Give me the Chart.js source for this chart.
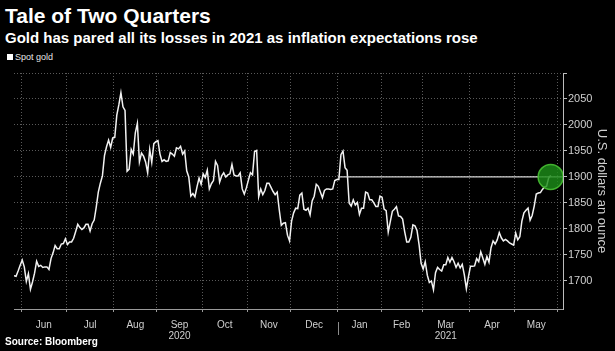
<!DOCTYPE html>
<html>
<head>
<meta charset="utf-8">
<script src="https://cdn.jsdelivr.net/npm/chart.js@4.4.0/dist/chart.umd.min.js"></script>
<style>
  html, body { margin: 0; padding: 0; background: #000; }
  body { width: 615px; height: 351px; position: relative; overflow: hidden; font-family: "Liberation Sans", Arial, sans-serif; color: #fff; }
  .txt { position: absolute; left: 5px; white-space: nowrap; }
  #title { top: 4px; font-size: 21px; line-height: 24px; font-weight: bold; }
  #subtitle { top: 29px; font-size: 15px; line-height: 17px; font-weight: bold; }
  #legend { top: 51px; left: 7px; font-size: 9px; line-height: 12px; color: #e6e6e6; }
  #legend i { display: inline-block; width: 6px; height: 6px; background: #fff; margin-right: 2px; vertical-align: 0px; }
  #source { top: 336px; font-size: 10px; line-height: 12px; font-weight: bold; }
  #chart-box { position: absolute; left: 0; top: 59px; width: 615px; height: 292px; }
</style>
</head>
<body>
<div id="title" class="txt">Tale of Two Quarters</div>
<div id="subtitle" class="txt">Gold has pared all its losses in 2021 as inflation expectations rose</div>
<div id="legend" class="txt"><i></i>Spot gold</div>
<div id="chart-box"><canvas id="gold-chart" width="615" height="292"></canvas></div>
<div id="source" class="txt">Source: Bloomberg</div>

<script>
// ------------------ DATA -------------------//
// one value per weekday, starting Tue 26 May 2020
const firstDay = '2020-05-26';
const spotGold = [
    1710, 1709, 1719, 1730,
    // Jun 2020
    1740, 1727, 1699, 1714, 1684,
    1698, 1715, 1738, 1728, 1730,
    1726, 1727, 1727, 1722, 1743,
    1754, 1768, 1762, 1762, 1771,
    1772, 1781,
    // Jul
    1770, 1775, 1775,
    1782, 1795, 1809, 1803, 1799,
    1802, 1809, 1809, 1796, 1810,
    1817, 1842, 1871, 1888, 1902,
    1941, 1958, 1971, 1957, 1975,
    // Aug
    1976, 2019, 2039, 2062, 2035,
    2028, 1911, 1915, 1953, 1944,
    1985, 2003, 1929, 1946, 1940,
    1929, 1908, 1953, 1928, 1964,
    1968,
    // Sep
    1970, 1944, 1930, 1933,
    1930, 1931, 1947, 1944, 1940,
    1956, 1954, 1959, 1944, 1950,
    1912, 1900, 1863, 1868, 1862,
    1881, 1898, 1886,
    // Oct
    1906, 1899,
    1913, 1877, 1887, 1893, 1930,
    1922, 1890, 1902, 1908, 1900,
    1904, 1906, 1924, 1904, 1902,
    1902, 1908, 1877, 1867, 1879,
    // Nov
    1894, 1908, 1904, 1949, 1951,
    1862, 1877, 1866, 1874, 1888,
    1888, 1880, 1872, 1866, 1871,
    1837, 1807, 1811, 1812, 1788,
    1777,
    // Dec
    1815, 1831, 1840, 1839,
    1865, 1869, 1838, 1836, 1840,
    1827, 1854, 1863, 1886, 1882,
    1871, 1860, 1874, 1877, 1877,
    1876, 1877, 1893, 1895,
    // Jan 2021
    1895,
    1943, 1950, 1918, 1913, 1850,
    1844, 1856, 1846, 1851, 1828,
    1840, 1840, 1871, 1869, 1856,
    1856, 1850, 1843, 1843, 1863,
    // Feb
    1861, 1838, 1835, 1794, 1814,
    1834, 1838, 1843, 1825, 1824,
    1819, 1795, 1775, 1775, 1784,
    1808, 1806, 1797, 1770, 1734,
    // Mar
    1723, 1737, 1711, 1697, 1700,
    1683, 1716, 1726, 1722, 1719,
    1731, 1731, 1745, 1736, 1745,
    1737, 1726, 1734, 1725, 1732,
    1712, 1685, 1708,
    // Apr
    1728, 1728,
    1729, 1743, 1737, 1756, 1744,
    1732, 1747, 1736, 1764, 1777,
    1771, 1779, 1793, 1783, 1777,
    1780, 1777, 1773, 1771, 1769,
    // May
    1792, 1779, 1785, 1815, 1831,
    1836, 1840, 1817, 1826, 1844,
    1867, 1869, 1870, 1876, 1881,
    1882, 1898, 1903
];

const monthLabels = ['Jun', 'Jul', 'Aug', 'Sep', 'Oct', 'Nov', 'Dec', 'Jan', 'Feb', 'Mar', 'Apr', 'May'];
const yearLabels  = ['', '', '', '2020', '', '', '', '', '', '2021', '', ''];
const yTicks = [1700, 1750, 1800, 1850, 1900, 1950, 2000, 2050, 2100];
const refLevel = 1900;   // "back above $1,900" line

const xMax = 267;        // weekdays shown across the axis
const yMin = 1646;
const yMax = 2100;

// ------------------ weekday calendar -------------------//
function weekdays(from, count) {
    const out = [];
    const d = new Date(from + 'T00:00:00Z');
    while (out.length < count) {
        const wd = d.getUTCDay();
        if (wd !== 0 && wd !== 6) out.push(new Date(d));
        d.setUTCDate(d.getUTCDate() + 1);
    }
    return out;
}
const days = weekdays(firstDay, xMax + 1);

// month edges sit half a day before the first weekday of each month
const monthEdges = [];
for (let i = 1; i < days.length; i++) {
    if (days[i].getUTCMonth() !== days[i - 1].getUTCMonth()) monthEdges.push(i - 0.5);
}
const monthMids = monthLabels.map((m, i) => (monthEdges[i] + monthEdges[i + 1]) / 2);
const yearEdge = monthEdges[monthLabels.indexOf('Jan')];

const goldPoints = spotGold.map((v, i) => ({x: i, y: v}));
const lastIdx = spotGold.length - 1;
const refPoints = [{x: yearEdge, y: refLevel}, {x: xMax, y: refLevel}];

// ------------------ small tick between the years -------------------//
const yearDivider = {
    id: 'yearDivider',
    afterDraw(chart) {
        const {ctx, chartArea} = chart;
        const px = Math.round(chart.scales.x.getPixelForValue(yearEdge)) + 0.5;
        ctx.save();
        ctx.strokeStyle = '#8c8c8c';
        ctx.lineWidth = 1;
        ctx.beginPath();
        ctx.moveTo(px, chartArea.bottom + 13);
        ctx.lineTo(px, chartArea.bottom + 26);
        ctx.stroke();
        ctx.restore();
    }
};

// ------------------ CHART -------------------//
const goldCanvas = document.getElementById('gold-chart');
let goldChart = new Chart(goldCanvas, {
    type: 'line',
    data: {
        datasets: [{
            label: 'Latest',
            data: [{x: lastIdx, y: refLevel}],
            showLine: false,
            pointRadius: 12.5,
            pointBackgroundColor: 'rgba(28, 140, 24, 0.82)',
            pointBorderColor: 'rgba(70, 185, 50, 0.95)',
            pointBorderWidth: 1.5,
            order: 0
        }, {
            label: 'Spot gold',
            data: goldPoints,
            borderColor: '#f2f2f2',
            borderWidth: 1.5,
            pointRadius: 0,
            tension: 0,
            order: 2
        }, {
            label: '1900',
            data: refPoints,
            borderColor: '#d6d6d6',
            borderWidth: 1.2,
            pointRadius: 0,
            order: 1
        }]
    },
    options: {
        responsive: false,
        animation: false,
        layout: { padding: { left: 4 } },
        plugins: {
            legend: { display: false },
            tooltip: { enabled: false }
        },
        scales: {
            x: {
                type: 'linear',
                position: 'bottom',
                weight: 0,
                min: 0,
                max: xMax,
                afterBuildTicks: s => { s.ticks = monthEdges.map(v => ({value: v})); },
                afterFit: s => { s.height = 3; },
                ticks: { display: false },
                grid: { color: '#5a5a5a', tickColor: '#9a9a9a', tickLength: 3 },
                border: { color: '#9a9a9a', dash: [1, 2] }
            },
            xm: {
                type: 'linear',
                position: 'bottom',
                weight: 1,
                min: 0,
                max: xMax,
                afterBuildTicks: s => { s.ticks = monthMids.map(v => ({value: v})); },
                afterFit: s => { s.height = 39; },
                grid: { display: false },
                border: { display: false },
                ticks: {
                    color: '#cfcfcf',
                    padding: 0,
                    autoSkip: false,
                    maxRotation: 0,
                    font: { family: 'Liberation Sans', size: 10, lineHeight: 1.1 },
                    callback: (v, i) => yearLabels[i] ? [monthLabels[i], yearLabels[i]] : monthLabels[i]
                }
            },
            y: {
                position: 'right',
                min: yMin,
                max: yMax,
                afterBuildTicks: s => { s.ticks = yTicks.map(v => ({value: v})); },
                afterFit: s => { s.width = 52; },
                ticks: {
                    color: '#cfcfcf',
                    padding: 1,
                    font: { family: 'Liberation Sans', size: 11 },
                    callback: v => v === yMax ? '' : v
                },
                grid: { color: '#5a5a5a', tickColor: '#bdbdbd', tickLength: 4 },
                border: { color: '#bdbdbd', dash: [1, 2] },
                title: {
                    display: true,
                    text: 'U.S. dollars an ounce',
                    color: '#cfcfcf',
                    font: { family: 'Liberation Sans', size: 13 },
                    padding: 6
                }
            }
        }
    },
    plugins: [yearDivider]
});
</script>
</body>
</html>
